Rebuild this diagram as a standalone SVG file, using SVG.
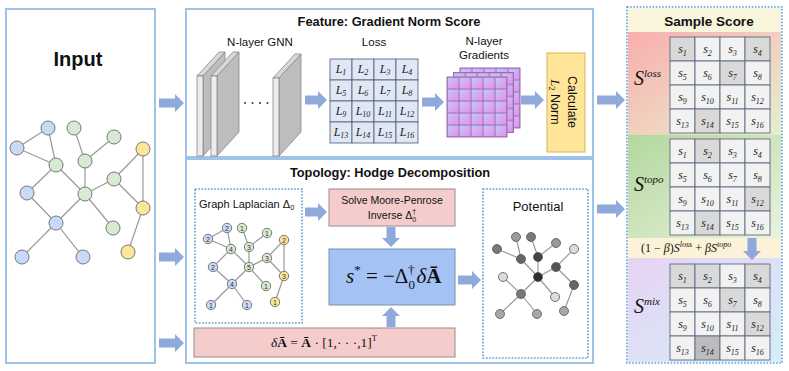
<svg xmlns="http://www.w3.org/2000/svg" width="789" height="371" viewBox="0 0 789 371">
<defs>
<style>
.panel{fill:#fff;stroke:#9dc3e6;stroke-width:2}
.dot{fill:none;stroke:#5b9bd5;stroke-width:1.6;stroke-dasharray:1.6 1.6}
.arr{fill:#8eaadb}
.edge{stroke:#999;stroke-width:1.2;fill:none}
.nb{fill:#c9daf8;stroke:#777;stroke-width:1}
.ng{fill:#d9ead3;stroke:#777;stroke-width:1}
.ny{fill:#ffe599;stroke:#777;stroke-width:1}
.sans{font-family:"Liberation Sans",Arial,sans-serif;fill:#111}
.bold{font-weight:bold}
.serif{font-family:"Liberation Serif","Times New Roman",serif;fill:#111}
.it{font-style:italic}
.lab{font-family:"Liberation Sans",Arial,sans-serif;font-size:7px;fill:#333;text-anchor:middle}
.lc{fill:#e1e8f5;stroke:#4d5b75;stroke-width:0.8}
.sc{fill:#f2f2f2;stroke:#5b6b82;stroke-width:0.9}
.sh{fill:#d9d9d9;stroke:#5b6b82;stroke-width:0.9}
.sd{fill:#bcbcbc;stroke:#5b6b82;stroke-width:0.9}
.ct{font-family:"Liberation Serif","Times New Roman",serif;font-style:italic;font-size:12px;fill:#222;text-anchor:middle}
.sub{font-size:8px}
.pink{fill:#f4cccc;stroke:#9a8a8a;stroke-width:1}
.front{fill:#ececec;stroke:#888;stroke-width:0.8}
.side{fill:#bdbdbd;stroke:#888;stroke-width:0.8}
.top{fill:#d8d8d8;stroke:#888;stroke-width:0.8}
.pn{stroke:#555;stroke-width:0.8}
</style>
<linearGradient id="cellg" x1="0" y1="0" x2="1" y2="1">
<stop offset="0" stop-color="#bfcdf3"/><stop offset="1" stop-color="#e68bf0"/>
</linearGradient>
<pattern id="gp" patternUnits="userSpaceOnUse" width="12" height="12">
<rect x="0" y="0" width="12" height="12" fill="url(#cellg)" stroke="#9a6fb2" stroke-width="1"/>
</pattern>
<linearGradient id="gloss" x1="0" y1="0" x2="1" y2="1">
<stop offset="0" stop-color="#f9aeae"/><stop offset="0.55" stop-color="#f0d3c0"/><stop offset="1" stop-color="#e4efcd"/>
</linearGradient>
<linearGradient id="gtopo" x1="0" y1="0" x2="1" y2="1">
<stop offset="0" stop-color="#b3d79e"/><stop offset="1" stop-color="#e9f3dc"/>
</linearGradient>
<linearGradient id="gmix" x1="0" y1="0" x2="1" y2="1">
<stop offset="0" stop-color="#e7d3f4"/><stop offset="1" stop-color="#d4eef8"/>
</linearGradient>
</defs>
<rect width="789" height="371" fill="#fff"/>

<g id="input">
<rect class="panel" x="6" y="9" width="149" height="354"/>
<text class="sans bold" x="78" y="66" font-size="20" text-anchor="middle">Input</text>
<g>
<line class="edge" x1="48" y1="128" x2="17" y2="148"/>
<line class="edge" x1="17" y1="148" x2="56" y2="165"/>
<line class="edge" x1="48" y1="128" x2="56" y2="165"/>
<line class="edge" x1="74" y1="128" x2="85" y2="161"/>
<line class="edge" x1="85" y1="161" x2="114" y2="137"/>
<line class="edge" x1="85" y1="161" x2="85" y2="194"/>
<line class="edge" x1="56" y1="165" x2="27" y2="193"/>
<line class="edge" x1="56" y1="165" x2="85" y2="194"/>
<line class="edge" x1="27" y1="193" x2="56" y2="223"/>
<line class="edge" x1="85" y1="194" x2="56" y2="223"/>
<line class="edge" x1="85" y1="194" x2="114" y2="179"/>
<line class="edge" x1="85" y1="194" x2="113" y2="228"/>
<line class="edge" x1="114" y1="179" x2="143" y2="149"/>
<line class="edge" x1="114" y1="179" x2="143" y2="208"/>
<line class="edge" x1="143" y1="149" x2="143" y2="208"/>
<line class="edge" x1="143" y1="208" x2="128" y2="252"/>
<line class="edge" x1="56" y1="223" x2="22" y2="257"/>
<line class="edge" x1="56" y1="223" x2="83" y2="257"/>
<circle class="nb" cx="48" cy="128" r="7"/>
<circle class="nb" cx="17" cy="148" r="7"/>
<circle class="ng" cx="74" cy="128" r="7"/>
<circle class="ng" cx="114" cy="137" r="7"/>
<circle class="ny" cx="143" cy="149" r="7"/>
<circle class="ng" cx="56" cy="165" r="7"/>
<circle class="ng" cx="85" cy="161" r="7"/>
<circle class="ng" cx="114" cy="179" r="7"/>
<circle class="nb" cx="27" cy="193" r="7"/>
<circle class="ng" cx="85" cy="194" r="7"/>
<circle class="ny" cx="143" cy="208" r="7"/>
<circle class="nb" cx="56" cy="223" r="7"/>
<circle class="ng" cx="113" cy="228" r="7"/>
<circle class="nb" cx="22" cy="257" r="7"/>
<circle class="nb" cx="83" cy="257" r="7"/>
<circle class="ny" cx="128" cy="252" r="7"/>
</g>
</g>

<g id="feature">
<rect class="panel" x="186" y="9" width="407" height="148"/>
<text class="sans bold" x="389" y="26" font-size="12.8" text-anchor="middle">Feature: Gradient Norm Score</text>
<g id="gnn">
<text class="sans" x="260" y="46" font-size="11.5" text-anchor="middle">N-layer GNN</text>
<polygon class="side" points="203,76 225,52 225,132 203,156"/>
<polygon class="top" points="197,76 219,52 225,52 203,76"/>
<rect class="front" x="197" y="76" width="6" height="80"/>
<polygon class="side" points="217,76 239,52 239,132 217,156"/>
<polygon class="top" points="211,76 233,52 239,52 217,76"/>
<rect class="front" x="211" y="76" width="6" height="80"/>
<polygon class="side" points="279,78 301,54 301,132 279,156"/>
<polygon class="top" points="273,78 295,54 301,54 279,78"/>
<rect class="front" x="273" y="78" width="6" height="78"/>
<circle cx="245" cy="103" r="1" fill="#333"/>
<circle cx="252.5" cy="103" r="1" fill="#333"/>
<circle cx="260" cy="103" r="1" fill="#333"/>
<circle cx="267.5" cy="103" r="1" fill="#333"/>
</g>
<g id="loss">
<text class="sans" x="374" y="46" font-size="11.5" text-anchor="middle">Loss</text>
<rect class="lc" x="330" y="59" width="22" height="21"/><rect class="lc" x="352" y="59" width="22" height="21"/><rect class="lc" x="374" y="59" width="22" height="21"/><rect class="lc" x="396" y="59" width="22" height="21"/>
<rect class="lc" x="330" y="80" width="22" height="21"/><rect class="lc" x="352" y="80" width="22" height="21"/><rect class="lc" x="374" y="80" width="22" height="21"/><rect class="lc" x="396" y="80" width="22" height="21"/>
<rect class="lc" x="330" y="101" width="22" height="21"/><rect class="lc" x="352" y="101" width="22" height="21"/><rect class="lc" x="374" y="101" width="22" height="21"/><rect class="lc" x="396" y="101" width="22" height="21"/>
<rect class="lc" x="330" y="122" width="22" height="21"/><rect class="lc" x="352" y="122" width="22" height="21"/><rect class="lc" x="374" y="122" width="22" height="21"/><rect class="lc" x="396" y="122" width="22" height="21"/>
<g class="ct" font-size="11">
<text class="ct" x="341" y="73">L<tspan class="sub" dy="2">1</tspan></text>
<text class="ct" x="363" y="73">L<tspan class="sub" dy="2">2</tspan></text>
<text class="ct" x="385" y="73">L<tspan class="sub" dy="2">3</tspan></text>
<text class="ct" x="407" y="73">L<tspan class="sub" dy="2">4</tspan></text>
<text class="ct" x="341" y="94">L<tspan class="sub" dy="2">5</tspan></text>
<text class="ct" x="363" y="94">L<tspan class="sub" dy="2">6</tspan></text>
<text class="ct" x="385" y="94">L<tspan class="sub" dy="2">7</tspan></text>
<text class="ct" x="407" y="94">L<tspan class="sub" dy="2">8</tspan></text>
<text class="ct" x="341" y="115">L<tspan class="sub" dy="2">9</tspan></text>
<text class="ct" x="363" y="115">L<tspan class="sub" dy="2">10</tspan></text>
<text class="ct" x="385" y="115">L<tspan class="sub" dy="2">11</tspan></text>
<text class="ct" x="407" y="115">L<tspan class="sub" dy="2">12</tspan></text>
<text class="ct" x="341" y="136">L<tspan class="sub" dy="2">13</tspan></text>
<text class="ct" x="363" y="136">L<tspan class="sub" dy="2">14</tspan></text>
<text class="ct" x="385" y="136">L<tspan class="sub" dy="2">15</tspan></text>
<text class="ct" x="407" y="136">L<tspan class="sub" dy="2">16</tspan></text>
</g>
</g>
<g id="gradients">
<text class="sans" x="484" y="45" font-size="11.5" text-anchor="middle">N-layer</text>
<text class="sans" x="484" y="59" font-size="11.5" text-anchor="middle">Gradients</text>
<g transform="translate(460,68)"><rect x="0" y="0" width="60" height="60" fill="url(#gp)" stroke="#9a6fb2" stroke-width="1"/></g>
<g transform="translate(453.5,72.5)"><rect x="0" y="0" width="60" height="60" fill="url(#gp)" stroke="#9a6fb2" stroke-width="1"/></g>
<g transform="translate(447,77)"><rect x="0" y="0" width="60" height="60" fill="url(#gp)" stroke="#9a6fb2" stroke-width="1"/></g>
</g>
<g id="calc">
<rect x="547" y="53" width="38" height="99" fill="#ffe599" stroke="#d6b656" stroke-width="1"/>
<g transform="translate(566,102) rotate(90)">
<text class="sans" x="0" y="-1.5" font-size="12.5" text-anchor="middle">Calculate</text>
<text class="sans" x="0" y="15.5" font-size="12.5" text-anchor="middle"><tspan class="serif it">L</tspan><tspan class="serif" font-size="8.5" dy="2">2</tspan><tspan dy="-2"> Norm</tspan></text>
</g>
</g>
</g>

<g id="topology">
<rect class="panel" x="186" y="159" width="407" height="204"/>
<text class="sans bold" x="390" y="177" font-size="12.8" text-anchor="middle">Topology: Hodge Decomposition</text>
<g id="laplacian">
<rect class="dot" x="195" y="189" width="107" height="134"/>
<text class="sans" x="199" y="208" font-size="11">Graph Laplacian Δ<tspan font-size="7.5" dy="2">0</tspan></text>
<line class="edge" x1="227" y1="228" x2="208" y2="239"/>
<line class="edge" x1="208" y1="239" x2="231" y2="249"/>
<line class="edge" x1="227" y1="228" x2="231" y2="249"/>
<line class="edge" x1="242" y1="228" x2="249" y2="247"/>
<line class="edge" x1="249" y1="247" x2="267" y2="233"/>
<line class="edge" x1="249" y1="247" x2="249" y2="267"/>
<line class="edge" x1="231" y1="249" x2="213" y2="267"/>
<line class="edge" x1="231" y1="249" x2="249" y2="267"/>
<line class="edge" x1="213" y1="267" x2="232" y2="284"/>
<line class="edge" x1="249" y1="267" x2="232" y2="284"/>
<line class="edge" x1="249" y1="267" x2="267" y2="258"/>
<line class="edge" x1="249" y1="267" x2="266" y2="286"/>
<line class="edge" x1="267" y1="258" x2="284" y2="240"/>
<line class="edge" x1="267" y1="258" x2="284" y2="276"/>
<line class="edge" x1="284" y1="240" x2="284" y2="276"/>
<line class="edge" x1="284" y1="276" x2="275" y2="302"/>
<line class="edge" x1="232" y1="284" x2="211" y2="305"/>
<line class="edge" x1="232" y1="284" x2="247" y2="305"/>
<circle class="nb" cx="227" cy="228" r="4.7"/><text class="lab" x="227" y="230.5">2</text>
<circle class="nb" cx="208" cy="239" r="4.7"/><text class="lab" x="208" y="241.5">2</text>
<circle class="ng" cx="242" cy="228" r="4.7"/><text class="lab" x="242" y="230.5">1</text>
<circle class="ng" cx="267" cy="233" r="4.7"/><text class="lab" x="267" y="235.5">1</text>
<circle class="ny" cx="284" cy="240" r="4.7"/><text class="lab" x="284" y="242.5">2</text>
<circle class="ng" cx="231" cy="249" r="4.7"/><text class="lab" x="231" y="251.5">4</text>
<circle class="ng" cx="249" cy="247" r="4.7"/><text class="lab" x="249" y="249.5">3</text>
<circle class="ng" cx="267" cy="258" r="4.7"/><text class="lab" x="267" y="260.5">3</text>
<circle class="nb" cx="213" cy="267" r="4.7"/><text class="lab" x="213" y="269.5">2</text>
<circle class="ng" cx="249" cy="267" r="4.7"/><text class="lab" x="249" y="269.5">5</text>
<circle class="ny" cx="284" cy="276" r="4.7"/><text class="lab" x="284" y="278.5">3</text>
<circle class="nb" cx="232" cy="284" r="4.7"/><text class="lab" x="232" y="286.5">4</text>
<circle class="ng" cx="266" cy="286" r="4.7"/><text class="lab" x="266" y="288.5">1</text>
<circle class="nb" cx="211" cy="305" r="4.7"/><text class="lab" x="211" y="307.5">1</text>
<circle class="nb" cx="247" cy="305" r="4.7"/><text class="lab" x="247" y="307.5">1</text>
<circle class="ny" cx="275" cy="302" r="4.7"/><text class="lab" x="275" y="304.5">1</text>
</g>
<g id="solve">
<rect class="pink" x="329" y="189" width="126" height="37"/>
<text class="sans" x="392" y="204" font-size="10.5" text-anchor="middle">Solve Moore-Penrose</text>
<text class="sans" x="392" y="219" font-size="10.5" text-anchor="middle">Inverse  Δ<tspan font-size="7" dy="2.5">0</tspan><tspan font-size="7" dx="-4" dy="-8">†</tspan></text>
</g>
<g id="sstar">
<rect x="329" y="249" width="126" height="56" fill="#a4c2f4" stroke="#7d8fae" stroke-width="1"/>
<text class="serif" x="346" y="283" font-size="21"><tspan class="it">s</tspan><tspan font-size="13" dy="-9">*</tspan><tspan dy="9"> = −Δ</tspan><tspan font-size="13" dy="6">0</tspan><tspan font-size="13" dx="-7" dy="-15">†</tspan><tspan class="it" dx="2" dy="9">δ</tspan><tspan font-weight="bold">Ā</tspan></text>
</g>
<g id="deltaA">
<rect class="pink" x="194" y="328" width="261" height="29"/>
<text class="serif" x="324" y="347" font-size="13.5" text-anchor="middle"><tspan class="it">δ</tspan><tspan font-weight="bold">Ā</tspan> = <tspan font-weight="bold">Ā</tspan> ·  [1,· · ·,1]<tspan font-size="8.5" dy="-6">T</tspan></text>
</g>
<g id="potential">
<rect class="dot" x="483" y="189" width="105" height="169"/>
<text class="sans" x="538" y="211" font-size="13" text-anchor="middle">Potential</text>
<line class="edge" x1="497" y1="249" x2="521" y2="259"/>
<line class="edge" x1="516" y1="237" x2="521" y2="259"/>
<line class="edge" x1="531" y1="237" x2="538" y2="257"/>
<line class="edge" x1="556" y1="243" x2="538" y2="257"/>
<line class="edge" x1="538" y1="257" x2="538" y2="277"/>
<line class="edge" x1="521" y1="259" x2="538" y2="277"/>
<line class="edge" x1="538" y1="277" x2="556" y2="267"/>
<line class="edge" x1="556" y1="267" x2="574" y2="249"/>
<line class="edge" x1="556" y1="267" x2="574" y2="285"/>
<line class="edge" x1="574" y1="285" x2="564" y2="311"/>
<line class="edge" x1="538" y1="277" x2="555" y2="297"/>
<line class="edge" x1="538" y1="277" x2="521" y2="294"/>
<line class="edge" x1="503" y1="277" x2="521" y2="294"/>
<line class="edge" x1="521" y1="294" x2="500" y2="314"/>
<line class="edge" x1="521" y1="294" x2="537" y2="314"/>
<circle class="pn" cx="516" cy="237" r="4.5" fill="#9a9a9a"/>
<circle class="pn" cx="531" cy="237" r="4.5" fill="#7a7a7a"/>
<circle class="pn" cx="497" cy="249" r="4.5" fill="#7a7a7a"/>
<circle class="pn" cx="556" cy="243" r="4.5" fill="#9a9a9a"/>
<circle class="pn" cx="574" cy="249" r="4.5" fill="#dcdcdc"/>
<circle class="pn" cx="521" cy="259" r="4.5" fill="#666"/>
<circle class="pn" cx="538" cy="257" r="4.5" fill="#444"/>
<circle class="pn" cx="556" cy="267" r="4.5" fill="#555"/>
<circle class="pn" cx="503" cy="277" r="4.5" fill="#dcdcdc"/>
<circle class="pn" cx="538" cy="277" r="4.5" fill="#2e2e2e"/>
<circle class="pn" cx="574" cy="285" r="4.5" fill="#666"/>
<circle class="pn" cx="521" cy="294" r="4.5" fill="#777"/>
<circle class="pn" cx="555" cy="297" r="4.5" fill="#dcdcdc"/>
<circle class="pn" cx="564" cy="311" r="4.5" fill="#a8a8a8"/>
<circle class="pn" cx="500" cy="314" r="4.5" fill="#a8a8a8"/>
<circle class="pn" cx="537" cy="314" r="4.5" fill="#a8a8a8"/>
</g>
</g>

<g id="sample">
<rect x="628" y="8" width="153" height="24" fill="#f8f5dc"/>
<rect x="628" y="32" width="153" height="103" fill="url(#gloss)"/>
<rect x="628" y="135" width="153" height="103" fill="url(#gtopo)"/>
<rect x="628" y="238" width="153" height="20" fill="#fcf2d8"/>
<rect x="628" y="258" width="153" height="104" fill="url(#gmix)"/>
<rect class="dot" x="627" y="7" width="155" height="356"/>
<text class="sans bold" x="709" y="26" font-size="13.5" text-anchor="middle">Sample Score</text>
<text class="serif it" x="634" y="85" font-size="20">S<tspan font-size="11" dy="-8">loss</tspan></text>
<text class="serif it" x="634" y="191" font-size="20">S<tspan font-size="11" dy="-8">topo</tspan></text>
<text class="serif it" x="634" y="313" font-size="20">S<tspan font-size="11" dy="-8">mix</tspan></text>
<text class="serif" x="641" y="252" font-size="12">(1 − <tspan class="it">β</tspan>)<tspan class="it">S</tspan><tspan class="it" font-size="8" dy="-5">loss</tspan><tspan dy="5"> + </tspan><tspan class="it">βS</tspan><tspan class="it" font-size="8" dy="-5">topo</tspan></text>
<g id="grid-loss">
<rect class="sh" x="670" y="37" width="25" height="24"/><rect class="sc" x="695" y="37" width="25" height="24"/><rect class="sc" x="720" y="37" width="25" height="24"/><rect class="sh" x="745" y="37" width="25" height="24"/>
<rect class="sc" x="670" y="61" width="25" height="24"/><rect class="sc" x="695" y="61" width="25" height="24"/><rect class="sh" x="720" y="61" width="25" height="24"/><rect class="sc" x="745" y="61" width="25" height="24"/>
<rect class="sc" x="670" y="85" width="25" height="24"/><rect class="sc" x="695" y="85" width="25" height="24"/><rect class="sc" x="720" y="85" width="25" height="24"/><rect class="sc" x="745" y="85" width="25" height="24"/>
<rect class="sc" x="670" y="109" width="25" height="24"/><rect class="sh" x="695" y="109" width="25" height="24"/><rect class="sc" x="720" y="109" width="25" height="24"/><rect class="sc" x="745" y="109" width="25" height="24"/>
<text class="ct" x="682.5" y="53">s<tspan class="sub" dy="2.5">1</tspan></text>
<text class="ct" x="707.5" y="53">s<tspan class="sub" dy="2.5">2</tspan></text>
<text class="ct" x="732.5" y="53">s<tspan class="sub" dy="2.5">3</tspan></text>
<text class="ct" x="757.5" y="53">s<tspan class="sub" dy="2.5">4</tspan></text>
<text class="ct" x="682.5" y="77">s<tspan class="sub" dy="2.5">5</tspan></text>
<text class="ct" x="707.5" y="77">s<tspan class="sub" dy="2.5">6</tspan></text>
<text class="ct" x="732.5" y="77">s<tspan class="sub" dy="2.5">7</tspan></text>
<text class="ct" x="757.5" y="77">s<tspan class="sub" dy="2.5">8</tspan></text>
<text class="ct" x="682.5" y="101">s<tspan class="sub" dy="2.5">9</tspan></text>
<text class="ct" x="707.5" y="101">s<tspan class="sub" dy="2.5">10</tspan></text>
<text class="ct" x="732.5" y="101">s<tspan class="sub" dy="2.5">11</tspan></text>
<text class="ct" x="757.5" y="101">s<tspan class="sub" dy="2.5">12</tspan></text>
<text class="ct" x="682.5" y="125">s<tspan class="sub" dy="2.5">13</tspan></text>
<text class="ct" x="707.5" y="125">s<tspan class="sub" dy="2.5">14</tspan></text>
<text class="ct" x="732.5" y="125">s<tspan class="sub" dy="2.5">15</tspan></text>
<text class="ct" x="757.5" y="125">s<tspan class="sub" dy="2.5">16</tspan></text>
</g>
<g id="grid-topo">
<rect class="sc" x="670" y="139" width="25" height="24"/><rect class="sh" x="695" y="139" width="25" height="24"/><rect class="sc" x="720" y="139" width="25" height="24"/><rect class="sc" x="745" y="139" width="25" height="24"/>
<rect class="sc" x="670" y="163" width="25" height="24"/><rect class="sc" x="695" y="163" width="25" height="24"/><rect class="sc" x="720" y="163" width="25" height="24"/><rect class="sc" x="745" y="163" width="25" height="24"/>
<rect class="sc" x="670" y="187" width="25" height="24"/><rect class="sc" x="695" y="187" width="25" height="24"/><rect class="sc" x="720" y="187" width="25" height="24"/><rect class="sh" x="745" y="187" width="25" height="24"/>
<rect class="sc" x="670" y="211" width="25" height="24"/><rect class="sh" x="695" y="211" width="25" height="24"/><rect class="sc" x="720" y="211" width="25" height="24"/><rect class="sc" x="745" y="211" width="25" height="24"/>
<text class="ct" x="682.5" y="155">s<tspan class="sub" dy="2.5">1</tspan></text>
<text class="ct" x="707.5" y="155">s<tspan class="sub" dy="2.5">2</tspan></text>
<text class="ct" x="732.5" y="155">s<tspan class="sub" dy="2.5">3</tspan></text>
<text class="ct" x="757.5" y="155">s<tspan class="sub" dy="2.5">4</tspan></text>
<text class="ct" x="682.5" y="179">s<tspan class="sub" dy="2.5">5</tspan></text>
<text class="ct" x="707.5" y="179">s<tspan class="sub" dy="2.5">6</tspan></text>
<text class="ct" x="732.5" y="179">s<tspan class="sub" dy="2.5">7</tspan></text>
<text class="ct" x="757.5" y="179">s<tspan class="sub" dy="2.5">8</tspan></text>
<text class="ct" x="682.5" y="203">s<tspan class="sub" dy="2.5">9</tspan></text>
<text class="ct" x="707.5" y="203">s<tspan class="sub" dy="2.5">10</tspan></text>
<text class="ct" x="732.5" y="203">s<tspan class="sub" dy="2.5">11</tspan></text>
<text class="ct" x="757.5" y="203">s<tspan class="sub" dy="2.5">12</tspan></text>
<text class="ct" x="682.5" y="227">s<tspan class="sub" dy="2.5">13</tspan></text>
<text class="ct" x="707.5" y="227">s<tspan class="sub" dy="2.5">14</tspan></text>
<text class="ct" x="732.5" y="227">s<tspan class="sub" dy="2.5">15</tspan></text>
<text class="ct" x="757.5" y="227">s<tspan class="sub" dy="2.5">16</tspan></text>
</g>
<g id="grid-mix">
<rect class="sh" x="670" y="264" width="25" height="24"/><rect class="sh" x="695" y="264" width="25" height="24"/><rect class="sc" x="720" y="264" width="25" height="24"/><rect class="sh" x="745" y="264" width="25" height="24"/>
<rect class="sc" x="670" y="288" width="25" height="24"/><rect class="sc" x="695" y="288" width="25" height="24"/><rect class="sh" x="720" y="288" width="25" height="24"/><rect class="sc" x="745" y="288" width="25" height="24"/>
<rect class="sc" x="670" y="312" width="25" height="24"/><rect class="sc" x="695" y="312" width="25" height="24"/><rect class="sc" x="720" y="312" width="25" height="24"/><rect class="sh" x="745" y="312" width="25" height="24"/>
<rect class="sc" x="670" y="336" width="25" height="24"/><rect class="sd" x="695" y="336" width="25" height="24"/><rect class="sc" x="720" y="336" width="25" height="24"/><rect class="sc" x="745" y="336" width="25" height="24"/>
<text class="ct" x="682.5" y="280">s<tspan class="sub" dy="2.5">1</tspan></text>
<text class="ct" x="707.5" y="280">s<tspan class="sub" dy="2.5">2</tspan></text>
<text class="ct" x="732.5" y="280">s<tspan class="sub" dy="2.5">3</tspan></text>
<text class="ct" x="757.5" y="280">s<tspan class="sub" dy="2.5">4</tspan></text>
<text class="ct" x="682.5" y="304">s<tspan class="sub" dy="2.5">5</tspan></text>
<text class="ct" x="707.5" y="304">s<tspan class="sub" dy="2.5">6</tspan></text>
<text class="ct" x="732.5" y="304">s<tspan class="sub" dy="2.5">7</tspan></text>
<text class="ct" x="757.5" y="304">s<tspan class="sub" dy="2.5">8</tspan></text>
<text class="ct" x="682.5" y="328">s<tspan class="sub" dy="2.5">9</tspan></text>
<text class="ct" x="707.5" y="328">s<tspan class="sub" dy="2.5">10</tspan></text>
<text class="ct" x="732.5" y="328">s<tspan class="sub" dy="2.5">11</tspan></text>
<text class="ct" x="757.5" y="328">s<tspan class="sub" dy="2.5">12</tspan></text>
<text class="ct" x="682.5" y="352">s<tspan class="sub" dy="2.5">13</tspan></text>
<text class="ct" x="707.5" y="352">s<tspan class="sub" dy="2.5">14</tspan></text>
<text class="ct" x="732.5" y="352">s<tspan class="sub" dy="2.5">15</tspan></text>
<text class="ct" x="757.5" y="352">s<tspan class="sub" dy="2.5">16</tspan></text>
</g>
</g>

<g id="connectors">
<path class="arr" d="M159,98.5 H175 V94 L184,103 L175,112 V107.5 H159 Z"/>
<path class="arr" d="M159,252.5 H175 V248 L184,257 L175,266 V261.5 H159 Z"/>
<path class="arr" d="M159,338.5 H175 V334 L184,343 L175,352 V347.5 H159 Z"/>
<path class="arr" d="M305,95.5 H318 V91 L327,100 L318,109 V104.5 H305 Z"/>
<path class="arr" d="M422,97.5 H435 V93 L444,102 L435,111 V106.5 H422 Z"/>
<path class="arr" d="M521,95.5 H535 V91 L544,100 L535,109 V104.5 H521 Z"/>
<path class="arr" d="M597,95.5 H616 V91 L625,100 L616,109 V104.5 H597 Z"/>
<path class="arr" d="M305,207.5 H318 V203 L327,212 L318,221 V216.5 H305 Z"/>
<path class="arr" d="M386.5,227 V238 H382 L391,247 L400,238 H395.5 V227 Z"/>
<path class="arr" d="M386.5,327 V316 H382 L391,307 L400,316 H395.5 V327 Z"/>
<path class="arr" d="M458,275.5 H472 V271 L481,280 L472,289 V284.5 H458 Z"/>
<path class="arr" d="M597,204.5 H616 V200 L625,209 L616,218 V213.5 H597 Z"/>
<path class="arr" d="M747.5,238 V251 H743 L752,260 L761,251 H756.5 V238 Z"/>
</g>
</svg>
